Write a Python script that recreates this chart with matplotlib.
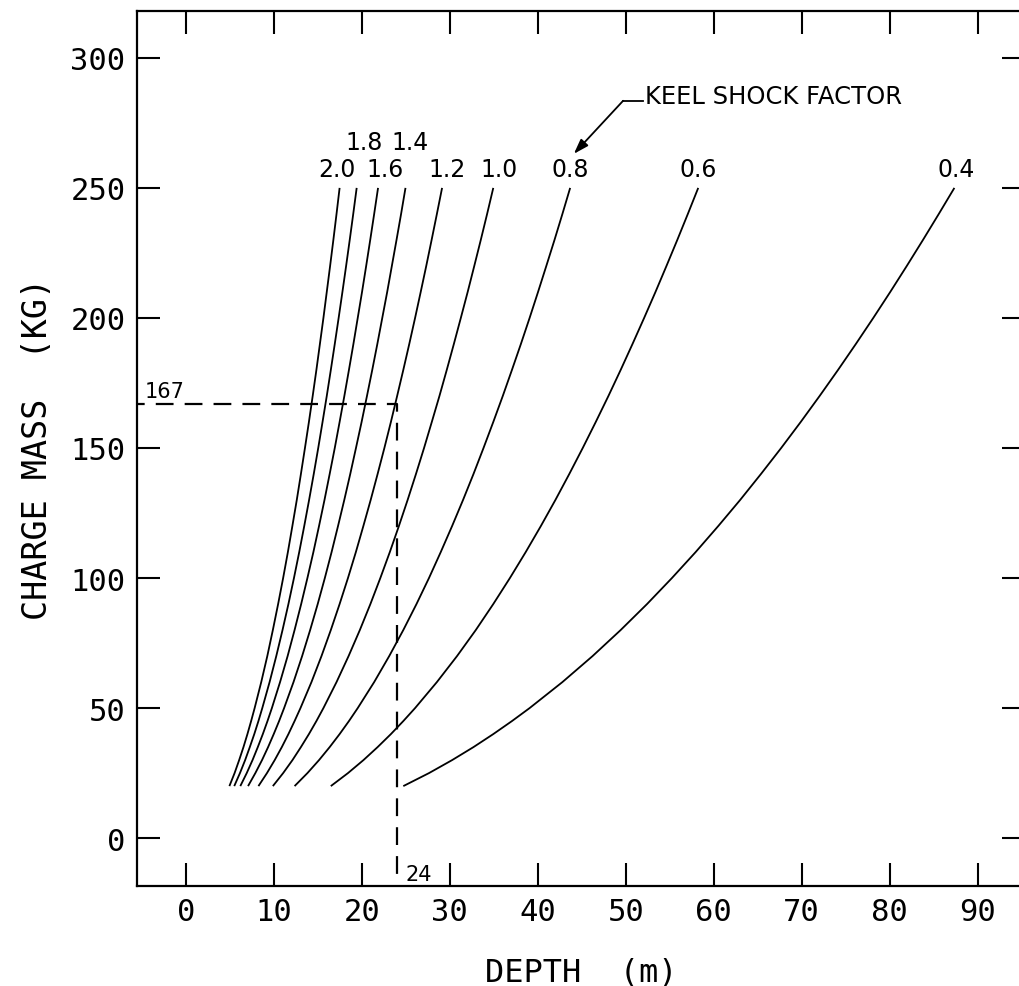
import matplotlib
matplotlib.use("Agg")
import matplotlib.pyplot as plt

# charge mass (kg) at which each depth was read
mass = [20, 25, 30, 35, 40, 45, 50, 60, 70, 80, 90, 100, 110, 120, 130,
        140, 150, 160, 170, 180, 190, 200, 210, 220, 230, 240, 250]

# depth (m) of each keel shock factor curve at the masses above
ksf_labels = ["2.0", "1.8", "1.6", "1.4", "1.2", "1.0", "0.8", "0.6", "0.4"]
depth_20 = [4.94, 5.53, 6.05, 6.54, 6.99, 7.41, 7.81, 8.56, 9.25, 9.88, 10.48, 11.05, 11.59, 12.10,
            12.60, 13.07, 13.53, 13.98, 14.41, 14.83, 15.23, 15.63, 16.01, 16.39, 16.76, 17.12, 17.47]
depth_18 = [5.49, 6.14, 6.73, 7.26, 7.77, 8.24, 8.68, 9.51, 10.27, 10.98, 11.65, 12.28, 12.88, 13.45,
            14.00, 14.53, 15.04, 15.53, 16.01, 16.47, 16.92, 17.36, 17.79, 18.21, 18.62, 19.02, 19.41]
depth_16 = [6.18, 6.91, 7.57, 8.17, 8.74, 9.27, 9.77, 10.70, 11.56, 12.35, 13.10, 13.81, 14.49, 15.13,
            15.75, 16.34, 16.92, 17.47, 18.01, 18.53, 19.04, 19.53, 20.02, 20.49, 20.95, 21.40, 21.84]
depth_14 = [7.06, 7.89, 8.65, 9.34, 9.98, 10.59, 11.16, 12.23, 13.21, 14.12, 14.98, 15.79, 16.56, 17.29,
            18.00, 18.68, 19.33, 19.97, 20.58, 21.18, 21.76, 22.32, 22.88, 23.41, 23.94, 24.46, 24.96]
depth_12 = [8.24, 9.21, 10.09, 10.90, 11.65, 12.35, 13.02, 14.27, 15.41, 16.47, 17.47, 18.42, 19.32, 20.17,
            21.00, 21.79, 22.56, 23.30, 24.01, 24.71, 25.39, 26.05, 26.69, 27.32, 27.93, 28.53, 29.12]
depth_10 = [9.88, 11.05, 12.11, 13.07, 13.98, 14.83, 15.63, 17.12, 18.49, 19.77, 20.97, 22.10, 23.18, 24.21,
            25.20, 26.15, 27.07, 27.95, 28.82, 29.65, 30.46, 31.25, 32.03, 32.78, 33.52, 34.24, 34.94]
depth_08 = [12.35, 13.81, 15.13, 16.34, 17.47, 18.53, 19.53, 21.40, 23.11, 24.71, 26.21, 27.63, 28.97, 30.26,
            31.50, 32.69, 33.83, 34.94, 36.02, 37.06, 38.08, 39.07, 40.03, 40.97, 41.90, 42.80, 43.68]
depth_06 = [16.47, 18.42, 20.18, 21.79, 23.30, 24.71, 26.05, 28.53, 30.82, 32.95, 34.94, 36.83, 38.63, 40.35,
            42.00, 43.58, 45.11, 46.59, 48.03, 49.42, 50.77, 52.09, 53.38, 54.63, 55.86, 57.06, 58.24]
depth_04 = [24.71, 27.63, 30.26, 32.69, 34.94, 37.06, 39.07, 42.80, 46.23, 49.42, 52.42, 55.25, 57.95, 60.52,
            63.00, 65.37, 67.67, 69.89, 72.04, 74.13, 76.16, 78.14, 80.07, 81.95, 83.79, 85.59, 87.36]
depths = [depth_20, depth_18, depth_16, depth_14, depth_12,
          depth_10, depth_08, depth_06, depth_04]

# worked example
ref_depth = 24
ref_mass = 167

x_ticks = list(range(0, 100, 10))
y_ticks = list(range(0, 301, 50))

#-------------------------------------------------------------------------------
mono = "DejaVu Sans Mono"
sans = "DejaVu Sans"

fig = plt.figure(figsize=(10.2, 9.87), dpi=100)
ax = fig.add_axes([0.134, 0.1016, 0.871, 0.8862])

for d in depths:
    ax.plot(d, mass, color="black", lw=1.3, solid_capstyle="butt",
            solid_joinstyle="round")

# label offsets (pixels) above the top of each curve, 1.8 and 1.4 on a second row
lab_off = [(-3, 19), (7, 46), (7, 19), (5, 46), (5, 19),
           (6, 19), (0, 19), (0, 19), (2, 19)]
for d, lab, off in zip(depths, ksf_labels, lab_off):
    ax.annotate(lab, xy=(d[-1], mass[-1]), xytext=off,
                textcoords="offset pixels", ha="center", va="center",
                fontsize=17, family=sans)

# leader + arrow to the curve labels
ax.annotate("", xy=(44.1, 263.1), xytext=(49.7, 283.5),
            arrowprops=dict(arrowstyle="-|>,head_length=0.9,head_width=0.3",
                            color="black", lw=1.3, shrinkA=0, shrinkB=0))
ax.plot([49.7, 52.0], [283.5, 283.5], color="black", lw=1.3)
ax.text(52.2, 285.4, "KEEL SHOCK FACTOR", ha="left", va="center",
        fontsize=17.5, family=sans)

# dashed lines for the worked example
ax.plot([-10, ref_depth, ref_depth], [ref_mass, ref_mass, -30],
        color="black", lw=1.6, dashes=(8, 5))
ax.annotate(str(ref_mass), xy=(0, ref_mass), xycoords=ax.get_yaxis_transform(),
            xytext=(8, 13), textcoords="offset pixels", ha="left", va="center",
            fontsize=15, family=sans)
ax.annotate(str(ref_depth), xy=(ref_depth, 0), xycoords=ax.get_xaxis_transform(),
            xytext=(8, 12), textcoords="offset pixels", ha="left", va="center",
            fontsize=15, family=sans)

ax.set_xlim(-5.6, 95.4)
ax.set_ylim(-18.3, 318)
ax.set_xticks(x_ticks)
ax.set_yticks(y_ticks)
ax.tick_params(direction="in", length=16.5, width=1.5, top=True, right=True,
               labelsize=22, pad=8)
for lbl in ax.get_xticklabels() + ax.get_yticklabels():
    lbl.set_family(mono)
for sp in ax.spines.values():
    sp.set_linewidth(1.6)
ax.spines["right"].set_visible(False)

ax.set_xlabel("DEPTH  (m)", family=mono, fontsize=23, labelpad=22)
ax.set_ylabel("CHARGE MASS  (KG)", family=mono, fontsize=24, labelpad=12)

fig.savefig("out.png", dpi=100)
